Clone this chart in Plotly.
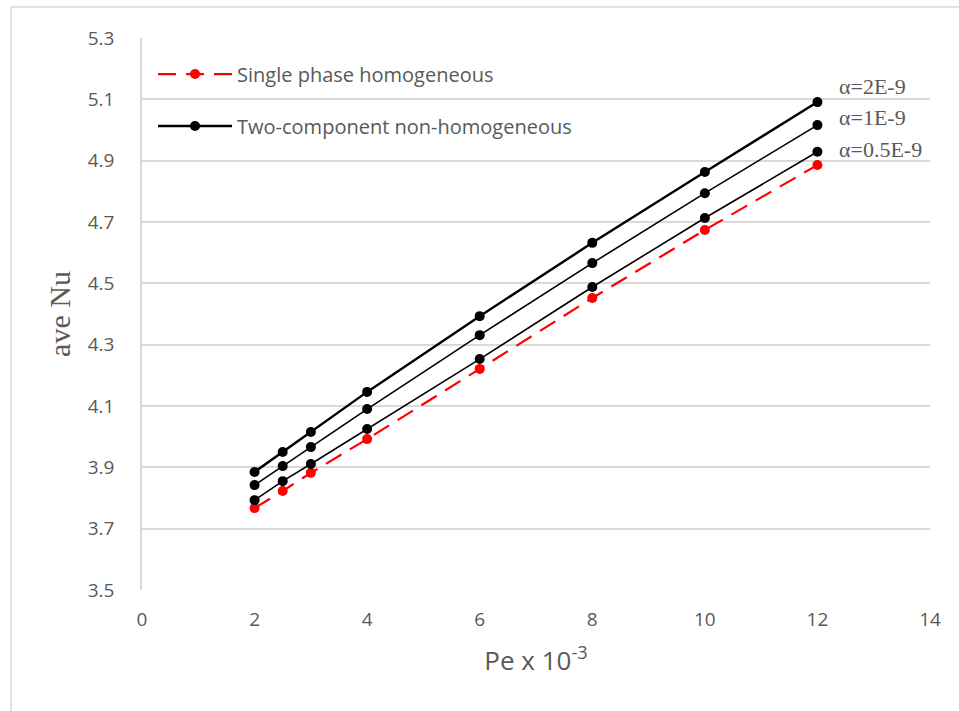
import plotly.graph_objects as go

# Peclet number (x 10^-3)
pe = [2, 2.5, 3, 4, 6, 8, 10, 12]

# Average Nusselt number
nu_single = [3.767, 3.823, 3.882, 3.992, 4.221, 4.452, 4.674, 4.886]
nu_a2 = [3.885, 3.950, 4.015, 4.146, 4.393, 4.632, 4.863, 5.091]
nu_a1 = [3.842, 3.904, 3.966, 4.090, 4.331, 4.566, 4.794, 5.016]
nu_a05 = [3.793, 3.855, 3.911, 4.025, 4.253, 4.488, 4.713, 4.929]

alpha_labels = ["α=2E-9", "α=1E-9", "α=0.5E-9"]
alpha_y = [5.142, 5.040, 4.937]

x_ticks = [0, 2, 4, 6, 8, 10, 12, 14]
y_ticks = [3.5, 3.7, 3.9, 4.1, 4.3, 4.5, 4.7, 4.9, 5.1, 5.3]

GRAY = "#595959"
SANS = "Open Sans, Liberation Sans, sans-serif"
SERIF = "Liberation Serif, Times New Roman, serif"

fig = go.Figure()

fig.add_trace(go.Scatter(
    x=pe, y=nu_single, mode="lines+markers", name="Single phase homogeneous",
    line=dict(color="#ff0000", width=2.2, dash="18px,10px"),
    marker=dict(color="#ff0000", size=10), legendgroup="g1"))

fig.add_trace(go.Scatter(
    x=pe, y=nu_a05, mode="lines+markers", showlegend=False,
    line=dict(color="black", width=1.6),
    marker=dict(color="black", size=10)))

fig.add_trace(go.Scatter(
    x=pe, y=nu_a1, mode="lines+markers", showlegend=False,
    line=dict(color="black", width=1.6),
    marker=dict(color="black", size=10)))

fig.add_trace(go.Scatter(
    x=pe, y=nu_a2, mode="lines+markers", name="Two-component non-homogeneous",
    line=dict(color="black", width=2.4),
    marker=dict(color="black", size=10), legendgroup="g2"))

for txt, yv in zip(alpha_labels, alpha_y):
    fig.add_annotation(x=12.35, y=yv, xref="x", yref="y", text=txt,
                       showarrow=False, xanchor="left", yanchor="middle",
                       font=dict(family=SERIF, size=22, color=GRAY))

# chart-area border (left and top edges)
fig.add_shape(type="line", xref="paper", yref="paper",
              x0=-131/788, x1=1.05, y0=(590-7)/552, y1=(590-7)/552,
              line=dict(color="#d9d9d9", width=1.5))
fig.add_shape(type="line", xref="paper", yref="paper",
              x0=-131/788, x1=-131/788, y0=(590-7)/552, y1=-0.25,
              line=dict(color="#d9d9d9", width=1.5))

fig.update_layout(
    width=959, height=711,
    margin=dict(l=142, r=29, t=38, b=121),
    paper_bgcolor="white", plot_bgcolor="white",
    showlegend=True,
    legend=dict(x=0.014, y=0.97, xanchor="left", yanchor="top",
                bgcolor="rgba(0,0,0,0)", tracegroupgap=23,
                traceorder="grouped", itemwidth=74,
                font=dict(family=SANS, size=20, color=GRAY)),
    xaxis=dict(range=[0, 14], tickvals=x_ticks, showgrid=False,
               zeroline=False, showline=False, ticks="",
               ticklabelstandoff=16,
               tickfont=dict(family=SANS, size=19, color=GRAY),
               title=dict(text="Pe x 10<sup>-3</sup>", standoff=20,
                          font=dict(family=SANS, size=26, color=GRAY))),
    yaxis=dict(range=[3.5, 5.3], tickvals=y_ticks, tickformat=".1f",
               showgrid=True, gridcolor="#d9d9d9", gridwidth=1.5,
               zeroline=False, showline=True, linecolor="#d9d9d9",
               linewidth=1.5, ticks="", ticklabelstandoff=22,
               tickfont=dict(family=SANS, size=19, color=GRAY),
               title=dict(text="ave Nu", standoff=8,
                          font=dict(family=SERIF, size=30, color=GRAY))),
)

fig.write_html("out.html")
